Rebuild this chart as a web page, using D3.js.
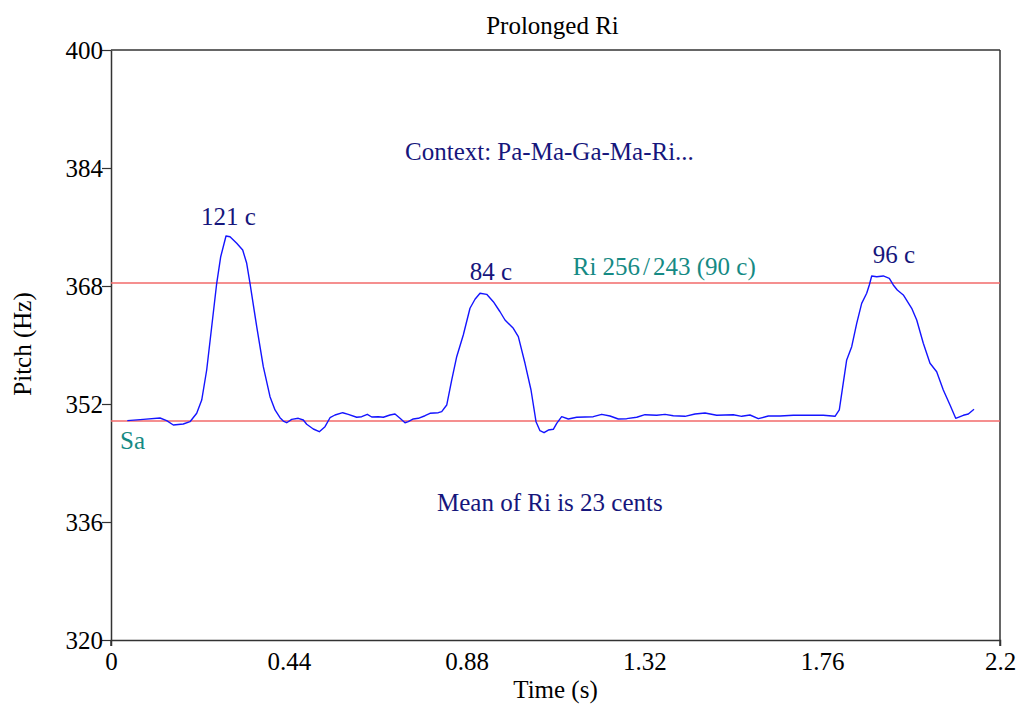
<!DOCTYPE html>
<html>
<head>
<meta charset="utf-8">
<script src="https://cdn.jsdelivr.net/npm/d3@7"></script>
<style>
  html, body { margin: 0; padding: 0; background: #fff; }
  svg { display: block; }
  text { font-family: "Liberation Serif", "Times New Roman", serif; }
</style>
</head>
<body>
<svg id="chart" width="1019" height="704"></svg>
<script>
// ---- data ----
const timeSec = [0.0403,0.0799,0.1213,0.1378,0.1542,0.1789,0.1955,0.2121,0.2245,0.2368,0.2492,0.2616,0.2715,0.2846,0.2945,0.3111,0.3259,0.3358,0.3440,0.3606,0.3769,0.3935,0.4059,0.4182,0.4264,0.4348,0.4472,0.4635,0.4759,0.4843,0.5006,0.5155,0.5296,0.5420,0.5543,0.5734,0.5872,0.6080,0.6204,0.6343,0.6452,0.6615,0.6739,0.6904,0.7028,0.7152,0.7276,0.7357,0.7481,0.7605,0.7771,0.7894,0.8100,0.8184,0.8308,0.8431,0.8555,0.8718,0.8884,0.9008,0.9132,0.9297,0.9461,0.9627,0.9750,0.9956,1.0080,1.0245,1.0394,1.0518,1.0616,1.0716,1.0822,1.0946,1.1030,1.1153,1.1317,1.1525,1.1935,1.2143,1.2349,1.2554,1.2762,1.3010,1.3215,1.3504,1.3710,1.3915,1.4205,1.4452,1.4700,1.4989,1.5400,1.5608,1.5813,1.6019,1.6266,1.6556,1.6885,1.7216,1.7627,1.7917,1.8023,1.8108,1.8206,1.8330,1.8454,1.8577,1.8701,1.8766,1.8825,1.8949,1.9112,1.9261,1.9359,1.9458,1.9607,1.9815,1.9939,2.0102,2.0268,2.0433,2.0597,2.0763,2.0904,2.1092,2.1216,2.1357];
const pitchHz = [349.74,349.92,350.10,349.74,349.15,349.29,349.60,350.74,352.54,356.61,362.48,368.37,371.97,374.78,374.68,373.79,372.88,371.08,368.37,362.48,357.06,352.99,351.19,350.14,349.69,349.46,349.92,350.06,349.83,349.25,348.61,348.24,348.92,350.14,350.51,350.82,350.60,350.20,350.28,350.60,350.24,350.28,350.20,350.51,350.64,350.06,349.46,349.60,349.97,350.06,350.41,350.74,350.82,350.96,351.86,355.25,358.41,361.36,364.98,366.20,367.01,366.87,365.87,364.51,363.39,362.26,361.13,357.52,353.90,349.60,348.38,348.11,348.47,348.57,349.38,350.28,349.97,350.20,350.28,350.60,350.37,349.97,350.01,350.20,350.55,350.47,350.60,350.41,350.33,350.64,350.78,350.47,350.55,350.33,350.51,350.01,350.37,350.37,350.47,350.47,350.47,350.33,351.19,354.35,357.97,359.77,362.94,365.65,367.01,368.14,369.36,369.26,369.36,369.04,368.14,367.46,366.78,364.98,363.39,360.23,357.52,356.38,353.90,351.86,350.06,350.47,350.64,351.28];

const xTicks = [0, 0.44, 0.88, 1.32, 1.76, 2.2];
const yTicks = [320, 336, 352, 368, 384, 400];
const xDomain = [0, 2.2];
const yDomain = [320, 400];

const refLineHz = [349.7, 368.4];          // Sa, Ri 256/243
const peakLabels = ["121 c", "84 c", "96 c"];
const peakLabelTime = [0.2227, 0.888, 1.885];
const peakLabelHz = [376.3, 368.8, 371.1];

const titleText = "Prolonged Ri";
const xLabel = "Time (s)";
const yLabel = "Pitch (Hz)";

// ---- layout ----
const W = 1019, H = 704;
const margin = { top: 50, right: 19, bottom: 64, left: 111 };
const iw = W - margin.left - margin.right;
const ih = H - margin.top - margin.bottom;

const navy = "#16167c";
const teal = "#158a84";
const fs = 25;

const svg = d3.select("#chart");
const g = svg.append("g").attr("transform", `translate(${margin.left},${margin.top})`);

const x = d3.scaleLinear().domain(xDomain).range([0, iw]);
const y = d3.scaleLinear().domain(yDomain).range([ih, 0]);

// frame (top and right)
g.append("line").attr("x1", 0).attr("x2", iw).attr("y1", 0).attr("y2", 0)
  .attr("stroke", "#333").attr("stroke-width", 1.5);
g.append("line").attr("x1", iw).attr("x2", iw).attr("y1", 0).attr("y2", ih + 6)
  .attr("stroke", "#333").attr("stroke-width", 1.5);

// axes
const xAxis = d3.axisBottom(x).tickValues(xTicks).tickFormat(d3.format("")).tickSizeInner(0).tickSizeOuter(6).tickPadding(12);
const yAxis = d3.axisLeft(y).tickValues(yTicks).tickFormat(d3.format("d")).tickSizeInner(9).tickSizeOuter(0).tickPadding(-1);

const gx = g.append("g").attr("transform", `translate(0,${ih})`).call(xAxis);
const gy = g.append("g").call(yAxis);
[gx, gy].forEach(a => {
  a.select(".domain").attr("stroke", "#333").attr("stroke-width", 1.5);
  a.selectAll(".tick line").attr("stroke", "#333").attr("stroke-width", 1.2);
  a.selectAll("text").attr("font-family", "Liberation Serif, serif").attr("font-size", fs).attr("fill", "#000");
});
// extend left axis slightly below x-axis
g.append("line").attr("x1", 0).attr("x2", 0).attr("y1", ih).attr("y2", ih + 6)
  .attr("stroke", "#333").attr("stroke-width", 1.5);

// reference lines
g.selectAll(".ref").data(refLineHz).enter().append("line")
  .attr("x1", 0).attr("x2", iw)
  .attr("y1", d => y(d)).attr("y2", d => y(d))
  .attr("stroke", "#f26a6a").attr("stroke-width", 1.6);

// pitch curve
const pts = timeSec.map((t, i) => [t, pitchHz[i]]);
g.append("path").datum(pts)
  .attr("fill", "none").attr("stroke", "#1414ff").attr("stroke-width", 1.4)
  .attr("stroke-linejoin", "round")
  .attr("d", d3.line().x(d => x(d[0])).y(d => y(d[1])));

// peak labels
g.selectAll(".peak").data(peakLabels).enter().append("text")
  .attr("x", (d, i) => x(peakLabelTime[i])).attr("y", (d, i) => y(peakLabelHz[i]))
  .attr("font-size", fs).attr("fill", navy).text(d => d);

// other annotations
g.append("text").attr("x", x(0.7276)).attr("y", y(385.08))
  .attr("font-size", fs).attr("fill", navy).text("Context: Pa-Ma-Ga-Ma-Ri...");
g.append("text").attr("x", x(0.8068)).attr("y", y(337.49))
  .attr("font-size", fs).attr("fill", navy).text("Mean of Ri is 23 cents");
g.append("text").attr("x", x(0.0223)).attr("y", y(345.9))
  .attr("font-size", fs).attr("fill", teal).text("Sa");
const riT = g.append("text").attr("x", x(1.1426)).attr("y", y(369.49))
  .attr("font-size", fs).attr("fill", teal);
riT.append("tspan").text("Ri 256");
riT.append("tspan").attr("dx", 3).text("/");
riT.append("tspan").attr("dx", 3).text("243 (90 c)");

// title & axis labels
svg.append("text").attr("x", margin.left + iw / 2 - 3).attr("y", 34)
  .attr("text-anchor", "middle").attr("font-size", fs).attr("fill", "#000").text(titleText);
svg.append("text").attr("x", margin.left + iw / 2).attr("y", 698)
  .attr("text-anchor", "middle").attr("font-size", fs).attr("fill", "#000").text(xLabel);
svg.append("text").attr("transform", `translate(31,344) rotate(-90)`)
  .attr("text-anchor", "middle").attr("font-size", fs).attr("fill", "#000").text(yLabel);
</script>
</body>
</html>
